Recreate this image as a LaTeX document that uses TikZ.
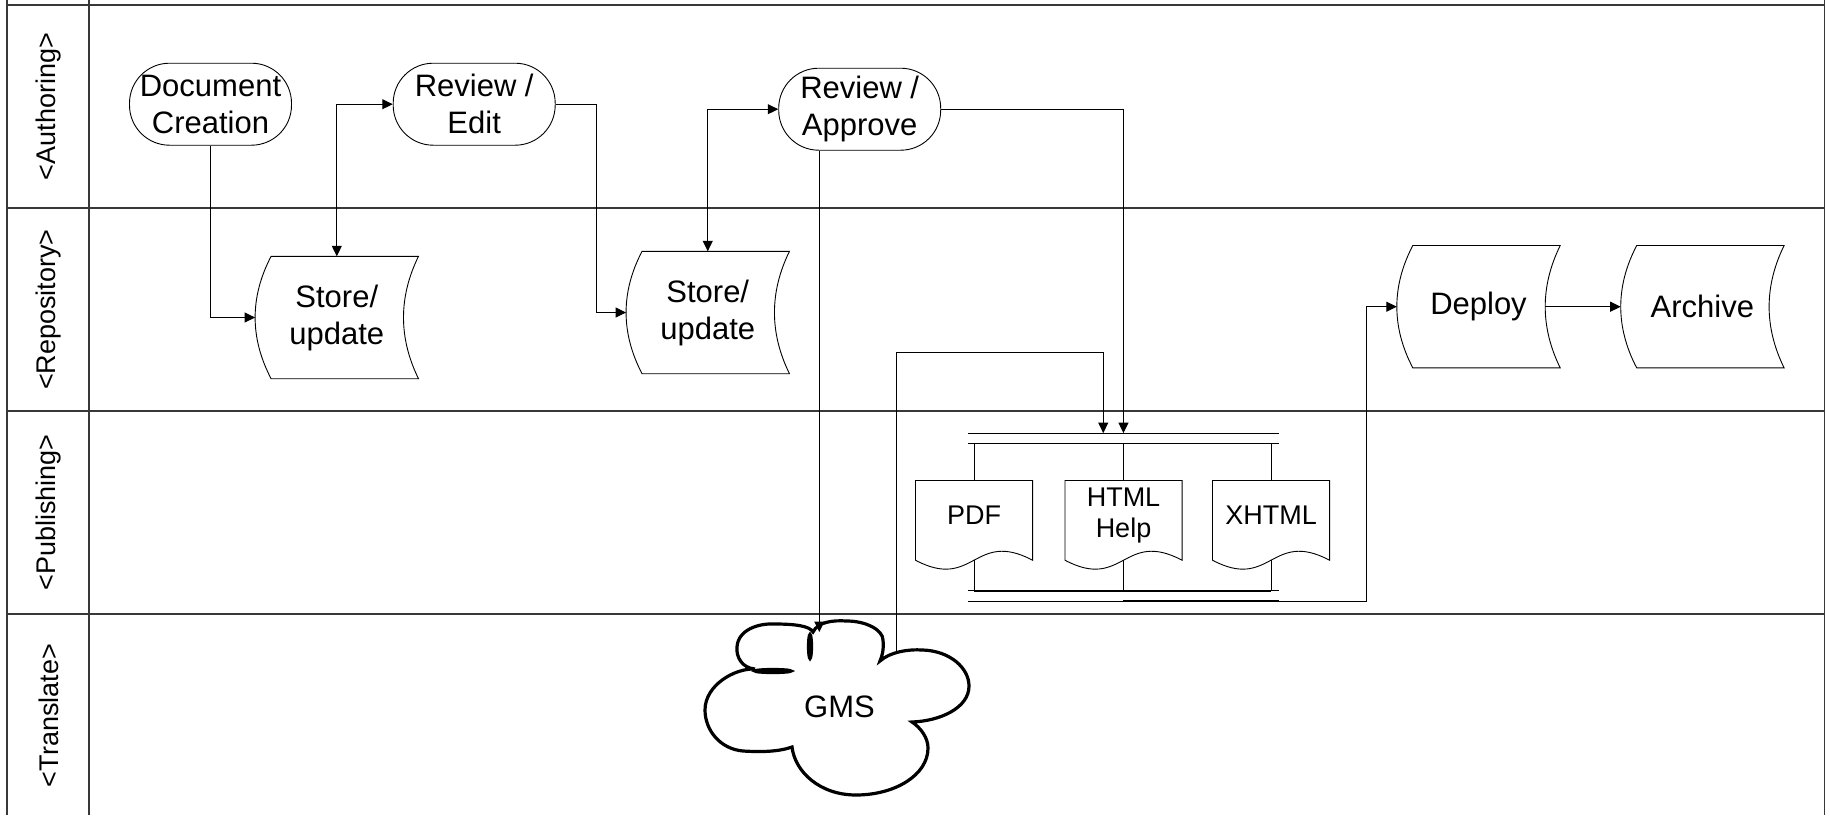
\documentclass[tikz,border=0pt]{standalone}
\usepackage{fontspec}
\setmainfont{Liberation Sans}
\usetikzlibrary{arrows.meta,calc}
\newcommand\bigfnt{\fontsize{31}{37}\selectfont}
\newcommand\smallfnt{\fontsize{27}{31}\selectfont}
\newcommand\storedpath[1]{%
  \draw[shapeline] ($(#1.north west)+(16,0)$) -- (#1.north east)
    .. controls ($(#1.north east)+(-20,40.7)$) and ($(#1.south east)+(-20,-40.7)$) .. (#1.south east)
    -- ($(#1.south west)+(16,0)$)
    .. controls ($(#1.south west)+(-5.3,-40.7)$) and ($(#1.north west)+(-5.3,40.7)$) .. cycle;}
\newcommand\docpath[1]{%
  \draw[shapeline] (#1.north west) -- (#1.north east) -- ($(#1.south east)+(0,10.3)$)
    .. controls ($(#1.south)+(0,-20.7)$) and ($(#1.south)+(0,41.3)$) .. ($(#1.south west)+(0,10.3)$)
    -- cycle;}
\begin{document}
\begin{tikzpicture}[x=1pt,y=-1pt,
  frameline/.style={line width=1.7pt, draw=black!78},
  shapeline/.style={line width=0.9pt, draw=black},
  cloudline/.style={line width=3.2pt, draw=black},
  conn/.style={line width=1pt, -{Triangle[length=10.5pt,width=10pt]}},
  bothconn/.style={line width=1pt, {Triangle[length=10.5pt,width=10pt]}-{Triangle[length=10.5pt,width=10pt]}},
  plainconn/.style={line width=1pt},
  busline/.style={line width=1.8pt},
  term/.style={draw, line width=0.9pt, rectangle, rounded corners=40pt, minimum width=162pt, minimum height=82pt, inner sep=0pt, align=center, font=\bigfnt},
  stored/.style={rectangle, minimum width=163pt, minimum height=122pt, inner sep=0pt, align=center, font=\bigfnt},
  docnode/.style={rectangle, minimum width=116.7pt, minimum height=69pt, inner sep=0pt, align=center, font=\smallfnt},
  barnode/.style={rectangle, minimum width=310.3pt, minimum height=10pt, inner sep=0pt},
  lanelabel/.style={rotate=90, font=\smallfnt, inner sep=0pt},
  cloudtext/.style={font=\bigfnt, inner sep=0pt}
]
\useasboundingbox (0,0) rectangle (1830,815);

% ---- swimlane frame ----
\draw[frameline] (7,0) -- (7,815);
\draw[frameline] (88.8,0) -- (88.8,815);
\draw[frameline] (1824.5,0) -- (1824.5,815);
\draw[frameline] (7,4.7) -- (1824.5,4.7);
\draw[frameline] (7,208) -- (1824.5,208);
\draw[frameline] (7,411) -- (1824.5,411);
\draw[frameline] (7,614) -- (1824.5,614);

\node[lanelabel] (lauth) at (48.5,106.5) {<Authoring>};
\node[lanelabel] (lrepo) at (48.5,309.5) {<Repository>};
\node[lanelabel] (lpub)  at (48.5,512.5) {<Publishing>};
\node[lanelabel] (ltran) at (48.5,715.5) {<Translate>};

% ---- authoring ----
\node[term] (dc) at (210.5,104.2) {Document\\Creation};
\node[term] (re) at (474.2,104.2) {Review /\\Edit};
\node[term] (ra) at (859.7,109.2) {Review /\\Approve};

% ---- repository ----
\node[stored] (st1) at (336.8,317.5) {Store/\\update};
\node[stored] (st2) at (707.75,312.5) {Store/\\update};
\node[stored] (dep) at (1478.5,306.7) {Deploy};
\node[stored] (arc) at (1702.4,306.7) {Archive};
\storedpath{st1}
\storedpath{st2}
\storedpath{dep}
\storedpath{arc}

% ---- publishing ----
\node[barnode] (fork) at (1123.45,438.3) {};
\node[barnode] (join) at (1123.45,596) {};
\draw[shapeline] (fork.north west) -- (fork.north east);
\draw[shapeline] (fork.south west) -- (fork.south east);
\draw[shapeline] (join.north west) -- (join.north east);
\draw[shapeline] (join.south west) -- (join.south east);

\node[docnode] (pdf)   at (974,515.2) {PDF};
\node[docnode] (html)  at (1123.5,515.2) {HTML\\Help};
\node[docnode] (xhtml) at (1271,515.2) {XHTML};
\docpath{pdf}
\docpath{html}
\docpath{xhtml}

% ---- translate: cloud ----
\draw[cloudline, fill=white] (755,669)
  .. controls (742,668) and (736,657) .. (737,647)
  .. controls (738,630) and (758,623) .. (775,624)
  .. controls (795,624) and (810,626) .. (813,632)
  .. controls (818,622) and (832,620) .. (847,621)
  .. controls (866,621) and (883,630) .. (883,640)
  .. controls (884,650) and (882,656) .. (880,661)
  .. controls (890,652) and (908,649) .. (923,650)
  .. controls (950,651) and (969,668) .. (969,686)
  .. controls (969,708) and (940,721) .. (912,722)
  .. controls (921,728) and (928,738) .. (928,748)
  .. controls (928,775) and (895,795) .. (856,795)
  .. controls (820,795) and (795,772) .. (792,747)
  .. controls (778,752) and (760,752) .. (743,751)
  .. controls (720,749) and (705,730) .. (705,710)
  .. controls (705,685) and (735,668) .. (755,669) -- cycle;
\draw[cloudline] (810,646.5) ellipse [x radius=1.5, y radius=12];
\draw[cloudline] (773,671) ellipse [x radius=18, y radius=1.5];
\node[cloudtext] (gms) at (839.5,707) {GMS};
\coordinate (gmsin) at (819.3,632);
\coordinate (gmsout) at (896.7,652);

% ---- connectors ----
\draw[conn] (dc.south) |- (st1.west);
\draw[bothconn] (st1.north) |- (re.west);
\draw[conn] (re.east) -- ++(41,0) |- (st2.west);
\draw[bothconn] (st2.north) |- (ra.west);
\draw[conn] (ra.east) -| (fork.north);
\draw[conn] ($(ra.south)+(-40.4,0)$) -- (gmsin);
\draw[conn] (gmsout) -- (896.7,352.3) -| ($(fork.north)+(-20.2,0)$);

\draw[plainconn] (pdf.north |- fork.south) -- (pdf.north);
\draw[plainconn] (html.north |- fork.south) -- (html.north);
\draw[plainconn] (xhtml.north |- fork.south) -- (xhtml.north);
\draw[busline] (pdf.north |- fork.south) -- (xhtml.north |- fork.south);

\draw[plainconn] ($(pdf.south)+(0,10.3)$) -- (pdf.south |- join.north);
\draw[plainconn] ($(html.south)+(0,10.3)$) -- (html.south |- join.north);
\draw[plainconn] ($(xhtml.south)+(0,10.3)$) -- (xhtml.south |- join.north);
\draw[busline] (pdf.south |- join.north) -- (xhtml.south |- join.north);

\draw[busline] (join.south) -- (join.south east);
\draw[conn] (join.south) -| ([xshift=-30.2pt]dep.west) -- (dep.west);
\draw[conn] ($(dep.east)+(-15,0)$) -- (arc.west);
\end{tikzpicture}
\end{document}
